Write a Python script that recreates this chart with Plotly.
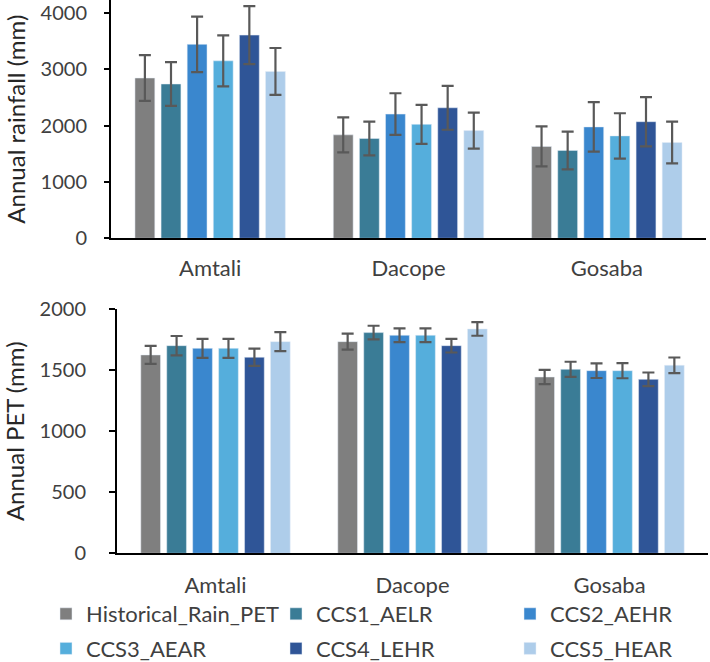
import plotly.graph_objects as go

sites = ["Amtali", "Dacope", "Gosaba"]
scenarios = ["Historical_Rain_PET", "CCS1_AELR", "CCS2_AEHR", "CCS3_AEAR", "CCS4_LEHR", "CCS5_HEAR"]
colors = ["#7f7f7f", "#3a7c96", "#3a87ce", "#55aedc", "#2f5597", "#aecdea"]

# annual rainfall (mm) and error per scenario, sites in order
rain_hist = [2845, 1836, 1630]
rain_ccs1 = [2739, 1771, 1560]
rain_ccs2 = [3443, 2205, 1977]
rain_ccs3 = [3150, 2023, 1818]
rain_ccs4 = [3607, 2317, 2070]
rain_ccs5 = [2962, 1912, 1701]
rain_err_hist = [405, 311, 355]
rain_err_ccs1 = [390, 300, 335]
rain_err_ccs2 = [493, 370, 440]
rain_err_ccs3 = [452, 346, 402]
rain_err_ccs4 = [516, 390, 437]
rain_err_ccs5 = [416, 320, 370]

# annual PET (mm)
pet_hist = [1626, 1735, 1445]
pet_ccs1 = [1702, 1809, 1508]
pet_ccs2 = [1680, 1787, 1497]
pet_ccs3 = [1680, 1787, 1497]
pet_ccs4 = [1607, 1702, 1426]
pet_ccs5 = [1735, 1839, 1541]
pet_err_hist = [74, 66, 59]
pet_err_ccs1 = [79, 56, 62]
pet_err_ccs2 = [78, 56, 60]
pet_err_ccs3 = [78, 56, 62]
pet_err_ccs4 = [71, 56, 56]
pet_err_ccs5 = [78, 56, 64]

rain = [rain_hist, rain_ccs1, rain_ccs2, rain_ccs3, rain_ccs4, rain_ccs5]
rain_err = [rain_err_hist, rain_err_ccs1, rain_err_ccs2, rain_err_ccs3, rain_err_ccs4, rain_err_ccs5]
pet = [pet_hist, pet_ccs1, pet_ccs2, pet_ccs3, pet_ccs4, pet_ccs5]
pet_err = [pet_err_hist, pet_err_ccs1, pet_err_ccs2, pet_err_ccs3, pet_err_ccs4, pet_err_ccs5]

# legend column each scenario goes in (Excel lays them out row by row)
legend_cols = ["legend", "legend2", "legend3", "legend", "legend2", "legend3"]

W, H = 710, 662
FONT = "Lato"
TXT = "#404040"

fig = go.Figure()
for i, name in enumerate(scenarios):
    fig.add_trace(go.Bar(x=sites, y=rain[i], name=name, marker_color=colors[i],
                         error_y=dict(type="data", array=rain_err[i], color="#595959", thickness=2.2, width=6),
                         xaxis="x", yaxis="y", legendgroup=name, legend=legend_cols[i]))
    fig.add_trace(go.Bar(x=sites, y=pet[i], name=name, marker_color=colors[i],
                         error_y=dict(type="data", array=pet_err[i], color="#595959", thickness=2.2, width=6),
                         xaxis="x2", yaxis="y2", legendgroup=name, showlegend=False))

axis_common = dict(showline=True, linecolor="black", linewidth=2, showgrid=False, zeroline=False,
                   automargin=False, ticklabeloverflow="allow",
                   tickfont=dict(family=FONT, size=20, color=TXT))
title_font = dict(family=FONT, size=24, color="#262626")
leg_common = dict(y=1 - 593 / H, yanchor="top", xanchor="left", tracegroupgap=3,
                  font=dict(family=FONT, size=22, color=TXT), bgcolor="rgba(0,0,0,0)")

fig.update_layout(
    width=W, height=H,
    margin=dict(l=0, r=0, t=0, b=0, autoexpand=False),
    paper_bgcolor="white", plot_bgcolor="white",
    barmode="group", bargap=0.21, bargroupgap=0.24,
    font=dict(family=FONT, color=TXT),
    xaxis=dict(axis_common, domain=[111 / W, 706 / W], anchor="y", ticks="", ticklabelstandoff=9,
               tickfont=dict(family=FONT, size=22, color=TXT)),
    yaxis=dict(axis_common, domain=[1 - 238.3 / H, 1], anchor="x", range=[0, 4230],
               tickvals=[0, 1000, 2000, 3000, 4000], ticks="outside", ticklen=5, tickwidth=1.5,
               tickcolor="black", ticklabelstandoff=13,
               title=dict(text="Annual rainfall (mm)", font=title_font, standoff=8)),
    xaxis2=dict(axis_common, domain=[117 / W, 708 / W], anchor="y2", ticks="", ticklabelstandoff=11,
                tickfont=dict(family=FONT, size=22, color=TXT)),
    yaxis2=dict(axis_common, domain=[1 - 553.3 / H, 1 - 309.3 / H], anchor="x2", range=[0, 2000],
                tickvals=[0, 500, 1000, 1500, 2000], ticks="outside", ticklen=6, tickwidth=1.5,
                tickcolor="black", ticklabelstandoff=19,
                title=dict(text="Annual PET (mm)", font=title_font, standoff=8)),
    legend=dict(leg_common, x=46 / W),
    legend2=dict(leg_common, x=276 / W),
    legend3=dict(leg_common, x=510 / W),
)

fig.write_html("out.html", config={"displayModeBar": False},
               post_script="document.body.style.margin='0';")
